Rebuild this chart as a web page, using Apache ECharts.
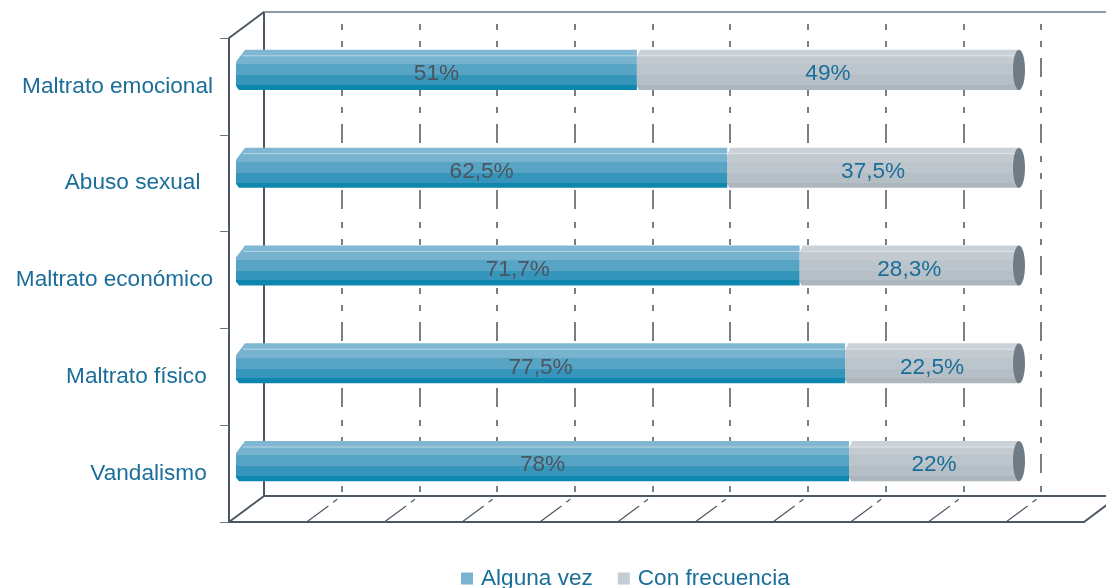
<!DOCTYPE html>
<html>
<head>
<meta charset="utf-8">
<style>
html,body{margin:0;padding:0;background:#fff;}
#c{width:1106px;height:588px;}
</style>
<script src="https://cdn.jsdelivr.net/npm/echarts@6/dist/echarts.min.js"></script>
</head>
<body>
<div id="c"></div>
<script>
const categories = ['Maltrato emocional', 'Abuso sexual  ', 'Maltrato económico', 'Maltrato físico ', 'Vandalismo '];
const algunaVez = [51, 62.5, 71.7, 77.5, 78];
const conFrecuencia = [49, 37.5, 28.3, 22.5, 22];
const algunaLabels = ['51%', '62,5%', '71,7%', '77,5%', '78%'];
const frecLabels = ['49%', '37,5%', '28,3%', '22,5%', '22%'];
const wallTicks = [10, 20, 30, 40, 50, 60, 70, 80, 90, 100];

const FONT = 'Liberation Sans, Arial, sans-serif';
const FS = 22.6;
const DARK = '#4b5864';
const TEXTBLUE = '#1a6e99';

function bands(c) {
  return {
    type: 'linear', x: 0, y: 0, x2: 0, y2: 1,
    colorStops: [
      {offset: 0, color: c[0]}, {offset: 0.15, color: c[0]},
      {offset: 0.15, color: c[1]}, {offset: 0.36, color: c[1]},
      {offset: 0.36, color: c[2]}, {offset: 0.63, color: c[2]},
      {offset: 0.63, color: c[3]}, {offset: 0.87, color: c[3]},
      {offset: 0.87, color: c[4]}, {offset: 1, color: c[4]}
    ]
  };
}
const blueFill = bands(['#80b8d3', '#77b2ce', '#58a4c5', '#3595ba', '#0d87ad']);
const grayFill = bands(['#cad2d8', '#c3cbd1', '#bcc5cb', '#b6bfc5', '#adb6bd']);

const algunaData = algunaVez.map((v, i) => [v, i]);
const frecData = conFrecuencia.map((v, i) => [algunaVez[i], algunaVez[i] + v, i]);

function renderAlguna(params, api) {
  const idx = api.value(1);
  const p0 = api.coord([0, idx]);
  const p1 = api.coord([api.value(0), idx]);
  const h = api.size([0, 1])[1] * 0.41;
  const top = p0[1] - h / 2, bot = p0[1] + h / 2;
  const x0 = p0[0], x1 = p1[0];
  return {
    type: 'group',
    children: [
      {type: 'polygon', shape: {points: [[x0 + 9, top], [x1, top], [x1, bot], [x0 + 3, bot], [x0, bot - 4], [x0, top + 12]]},
       style: {fill: blueFill}},
      {type: 'line', shape: {x1: x0 + 7, y1: top + h * 0.15, x2: x1, y2: top + h * 0.15},
       style: {stroke: 'rgba(255,255,255,0.45)', lineWidth: 1}},
      {type: 'text', style: {text: algunaLabels[idx], x: (x0 + x1) / 2, y: p0[1] + 4, align: 'center', verticalAlign: 'middle',
        fill: '#4a5560', font: FS + 'px ' + FONT}}
    ]
  };
}

function renderFrec(params, api) {
  const idx = api.value(2);
  const p0 = api.coord([api.value(0), idx]);
  const p1 = api.coord([api.value(1), idx]);
  const h = api.size([0, 1])[1] * 0.41;
  const top = p0[1] - h / 2, bot = p0[1] + h / 2;
  const xs = p0[0], xe = p1[0] - 3;
  return {
    type: 'group',
    children: [
      {type: 'polygon', shape: {points: [[xs + 3, top], [xe, top], [xe, bot], [xs + 2, bot], [xs, bot - 4], [xs, top + 8]]},
       style: {fill: grayFill}},
      {type: 'line', shape: {x1: xs + 2, y1: top + h * 0.15, x2: xe, y2: top + h * 0.15},
       style: {stroke: 'rgba(255,255,255,0.45)', lineWidth: 1}},
      {type: 'ellipse', shape: {cx: xe, cy: p0[1], rx: 6, ry: h / 2}, style: {fill: '#6f7c86'}},
      {type: 'text', style: {text: frecLabels[idx], x: (xs + xe) / 2, y: p0[1] + 4, align: 'center', verticalAlign: 'middle',
        fill: TEXTBLUE, font: FS + 'px ' + FONT}}
    ]
  };
}

function renderFloor(params, api) {
  const p = api.coord([api.value(0), 0]);
  return {
    type: 'line',
    shape: {x1: p[0] - 35, y1: p[1] + 26, x2: p[0], y2: p[1]},
    style: {stroke: DARK, lineWidth: 1.2, lineDash: [27, 6, 5, 6]}
  };
}

const chart = echarts.init(document.getElementById('c'), null, {renderer: 'canvas'});
chart.setOption({
  animation: false,
  backgroundColor: '#fff',
  textStyle: {fontFamily: FONT},
  legend: {
    left: 456, top: 562,
    itemWidth: 12, itemHeight: 12, itemGap: 25,
    icon: 'rect',
    textStyle: {fontSize: FS, color: TEXTBLUE, fontFamily: FONT, padding: [0, 0, 0, 3]},
    data: [
      {name: 'Alguna vez', itemStyle: {color: '#7ab3cf'}},
      {name: 'Con frecuencia', itemStyle: {color: '#c5cdd4'}}
    ]
  },
  grid: [
    {left: 236, right: 84, top: 21, bottom: 78},   // bars
    {left: 264, right: 65, top: 12, bottom: 92},   // wall grid lines
    {left: 229, right: 22, top: 38, bottom: 66},   // front axis
    {left: 264, right: 0, top: 12, bottom: 92}     // wall borders
  ],
  xAxis: [
    {gridIndex: 0, type: 'value', min: 0, max: 100, show: false},
    {gridIndex: 1, type: 'value', min: 0, max: 100, interval: 10,
     axisLine: {show: false}, axisTick: {show: false}, axisLabel: {show: false},
     splitLine: {show: true, lineStyle: {color: '#55616b', width: 1.6, type: [6, 11, 6, 11, 19, 13], dashOffset: 54}}},
    {gridIndex: 2, type: 'value', min: 0, max: 100, position: 'bottom',
     axisLine: {show: true, lineStyle: {color: DARK, width: 2}}, axisTick: {show: false}, axisLabel: {show: false}, splitLine: {show: false}},
    {gridIndex: 3, type: 'value', min: 0, max: 100, position: 'bottom',
     axisLine: {show: true, lineStyle: {color: DARK, width: 2}}, axisTick: {show: false}, axisLabel: {show: false}, splitLine: {show: false}},
    {gridIndex: 3, type: 'value', min: 0, max: 100, position: 'top',
     axisLine: {show: true, lineStyle: {color: '#8e9aa2', width: 2}}, axisTick: {show: false}, axisLabel: {show: false}, splitLine: {show: false}}
  ],
  yAxis: [
    {gridIndex: 0, type: 'category', data: categories, inverse: true, show: false},
    {gridIndex: 1, type: 'value', min: 0, max: 1, show: false},
    {gridIndex: 2, type: 'category', data: categories, inverse: true,
     axisLine: {show: true, lineStyle: {color: DARK, width: 2}},
     axisTick: {show: true, length: 9, lineStyle: {color: '#6a7680', width: 1}},
     axisLabel: {fontSize: FS, color: TEXTBLUE, fontFamily: FONT, margin: 16}},
    {gridIndex: 3, type: 'value', min: 0, max: 1,
     axisLine: {show: true, lineStyle: {color: DARK, width: 2}}, axisTick: {show: false}, axisLabel: {show: false}, splitLine: {show: false}}
  ],
  graphic: [
    {type: 'line', shape: {x1: 229, y1: 38, x2: 264, y2: 12}, style: {stroke: DARK, lineWidth: 2}, z: 10},
    {type: 'line', shape: {x1: 229, y1: 522, x2: 264, y2: 496}, style: {stroke: DARK, lineWidth: 2}, z: 10},
    {type: 'line', shape: {x1: 1084, y1: 522, x2: 1108, y2: 504}, style: {stroke: DARK, lineWidth: 2}, z: 10}
  ],
  series: [
    {name: 'floor', type: 'custom', xAxisIndex: 1, yAxisIndex: 1, data: wallTicks.map(v => [v]),
     encode: {x: 0}, renderItem: renderFloor, silent: true, z: 1},
    {name: 'Alguna vez', type: 'custom', xAxisIndex: 0, yAxisIndex: 0, data: algunaData,
     encode: {x: 0, y: 1}, renderItem: renderAlguna, itemStyle: {color: '#7ab3cf'}, z: 5},
    {name: 'Con frecuencia', type: 'custom', xAxisIndex: 0, yAxisIndex: 0, data: frecData,
     encode: {x: [0, 1], y: 2}, renderItem: renderFrec, itemStyle: {color: '#c5cdd4'}, z: 4}
  ]
});
</script>
</body>
</html>
